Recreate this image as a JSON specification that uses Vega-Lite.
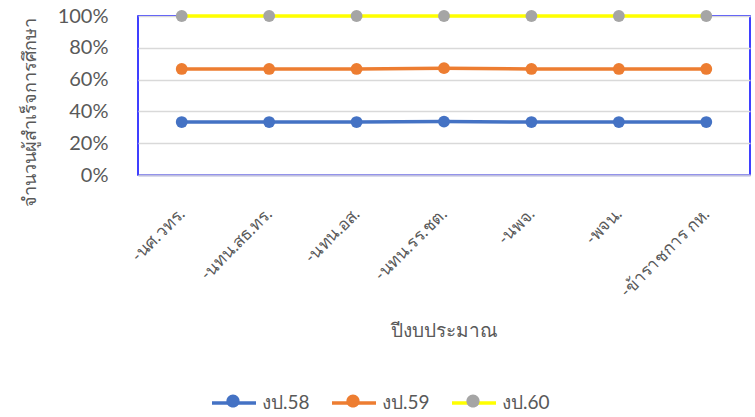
{
  "$schema": "https://vega.github.io/schema/vega-lite/v6.json",
  "width": 612,
  "height": 159,
  "autosize": {"type": "none"},
  "padding": {"left": 138, "top": 16, "right": 5, "bottom": 242},
  "background": "white",
  "config": {
    "view": {"stroke": "#0000FF", "strokeWidth": 1.5},
    "font": "Lato",
    "axis": {"labelColor": "#595959", "titleColor": "#595959", "titleFontWeight": "normal"},
    "legend": {"labelColor": "#595959"}
  },
  "data": {
    "values": [
      {"cat": "-นศ.วทร.", "series": "งป.58", "marker": "m58", "value": 0.333},
      {"cat": "-นทน.สธ.ทร.", "series": "งป.58", "marker": "m58", "value": 0.333},
      {"cat": "-นทน.อส.", "series": "งป.58", "marker": "m58", "value": 0.333},
      {"cat": "-นทน.รร.ชต.", "series": "งป.58", "marker": "m58", "value": 0.336},
      {"cat": "-นพจ.", "series": "งป.58", "marker": "m58", "value": 0.333},
      {"cat": "-พจน.", "series": "งป.58", "marker": "m58", "value": 0.333},
      {"cat": "-ข้าราชการ กห.", "series": "งป.58", "marker": "m58", "value": 0.333},
      {"cat": "-นศ.วทร.", "series": "งป.59", "marker": "m59", "value": 0.667},
      {"cat": "-นทน.สธ.ทร.", "series": "งป.59", "marker": "m59", "value": 0.667},
      {"cat": "-นทน.อส.", "series": "งป.59", "marker": "m59", "value": 0.667},
      {"cat": "-นทน.รร.ชต.", "series": "งป.59", "marker": "m59", "value": 0.672},
      {"cat": "-นพจ.", "series": "งป.59", "marker": "m59", "value": 0.667},
      {"cat": "-พจน.", "series": "งป.59", "marker": "m59", "value": 0.667},
      {"cat": "-ข้าราชการ กห.", "series": "งป.59", "marker": "m59", "value": 0.667},
      {"cat": "-นศ.วทร.", "series": "งป.60", "marker": "m60", "value": 1.0},
      {"cat": "-นทน.สธ.ทร.", "series": "งป.60", "marker": "m60", "value": 1.0},
      {"cat": "-นทน.อส.", "series": "งป.60", "marker": "m60", "value": 1.0},
      {"cat": "-นทน.รร.ชต.", "series": "งป.60", "marker": "m60", "value": 1.0},
      {"cat": "-นพจ.", "series": "งป.60", "marker": "m60", "value": 1.0},
      {"cat": "-พจน.", "series": "งป.60", "marker": "m60", "value": 1.0},
      {"cat": "-ข้าราชการ กห.", "series": "งป.60", "marker": "m60", "value": 1.0}
    ]
  },
  "encoding": {
    "x": {
      "field": "cat", "type": "nominal", "sort": null,
      "scale": {"paddingOuter": 0.5},
      "axis": {
        "title": "ปีงบประมาณ", "titleFontSize": 19, "titlePadding": 22,
        "labelAngle": -45, "labelAlign": "right", "labelBaseline": "middle",
        "labelFontSize": 17, "labelPadding": 36, "labelLimit": 300,
        "ticks": false, "domainColor": "#BFBFDF", "domainWidth": 2, "grid": false
      }
    },
    "y": {
      "field": "value", "type": "quantitative",
      "scale": {"domain": [0, 1], "nice": false},
      "axis": {
        "title": "จำนวนผู้สำเร็จการศึกษา", "titleFontSize": 18,
        "titleX": -108, "titleY": 96, "titleAlign": "center", "titleBaseline": "middle",
        "values": [0, 0.2, 0.4, 0.6, 0.8, 1.0], "format": ".0%",
        "labelFontSize": 20, "labelPadding": 30,
        "domain": false, "ticks": false, "gridColor": "#D9D9D9", "gridWidth": 1.5
      }
    }
  },
  "layer": [
    {
      "mark": {"type": "line", "strokeWidth": 3.5},
      "encoding": {
        "color": {
          "field": "series", "type": "nominal",
          "scale": {"domain": ["งป.58", "งป.59", "งป.60"], "range": ["#4472C4", "#ED7D31", "#FFFF00"]},
          "legend": {
            "title": null, "orient": "none", "direction": "horizontal",
            "legendX": 72, "legendY": 363,
            "symbolType": "stroke", "symbolSize": 1936, "symbolStrokeWidth": 3.5,
            "labelFontSize": 19, "labelOffset": 4, "columnPadding": 15
          }
        }
      }
    },
    {
      "mark": {"type": "point", "filled": true, "size": 140, "opacity": 1},
      "encoding": {
        "fill": {
          "field": "marker", "type": "nominal",
          "scale": {"domain": ["m58", "m59", "m60"], "range": ["#4472C4", "#ED7D31", "#A5A5A5"]},
          "legend": {
            "title": null, "orient": "none", "direction": "horizontal",
            "legendX": 73, "legendY": 363,
            "symbolType": "M-0.3,0 a0.3,0.3 0 1,0 0.6,0 a0.3,0.3 0 1,0 -0.6,0 Z",
            "symbolSize": 1936, "symbolStrokeWidth": 0, "symbolOpacity": 1,
            "labelExpr": "''", "labelFontSize": 19, "labelOffset": 4, "columnPadding": 72
          }
        }
      }
    }
  ]
}
